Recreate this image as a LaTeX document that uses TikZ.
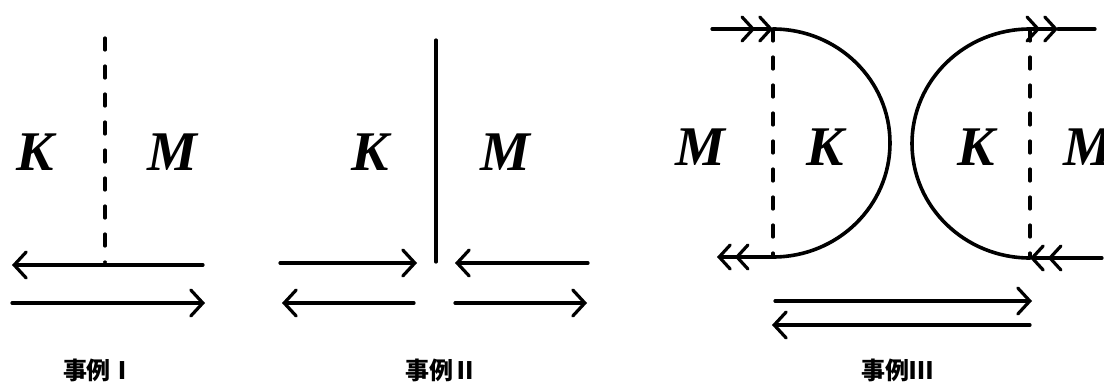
\documentclass[tikz,border=0pt]{standalone}
\usepackage{fontspec}
\setmainfont{Liberation Serif}
\newfontfamily\cjk{Noto Sans CJK JP}
\usetikzlibrary{arrows.meta}

\begin{document}
\begin{tikzpicture}[
  x=1pt, y=-1pt,
  line width=3.2pt, line cap=round,
  letter/.style={font=\fontsize{56}{60}\selectfont\bfseries\itshape, inner sep=0pt},
  caption/.style={font=\cjk\bfseries\fontsize{24}{26}\selectfont, inner sep=0pt},
  arr/.style={-{Straight Barb[length=12pt,width=26pt,line cap=round]}},
  dbl/.style={-{Straight Barb[length=11pt,width=24pt,line cap=round,sep=3pt]Straight Barb[length=11pt,width=24pt,line cap=round]}},
  cut/.style={dash pattern=on 12pt off 16pt},
  bow/.style={line width=3.6pt}
]
\useasboundingbox (0,0) rectangle (1104,383);

% case I
\coordinate (ia) at (105,38);
\coordinate (ib) at (105,262);
\draw[cut] (ia) -- (ib);
\node[letter] (ik) at (35,152) {K};
\node[letter] (im) at (172,152) {M};
\coordinate (ir1) at (203,265);
\coordinate (il1) at (12,265);
\coordinate (il2) at (12,303);
\coordinate (ir2) at (205,303);
\draw[arr] (ir1) -- (il1);
\draw[arr] (il2) -- (ir2);
\node[caption] (icap) at (99,370) {事例Ⅰ};

% case II
\coordinate (iia) at (436,40);
\coordinate (iib) at (436,262);
\draw (iia) -- (iib);
\node[letter] (iik) at (370,152) {K};
\node[letter] (iim) at (505,152) {M};
\coordinate (iil1) at (280,263);
\coordinate (iir1) at (417,263);
\coordinate (iil2) at (588,263);
\coordinate (iir2) at (455,263);
\coordinate (iil3) at (414,303);
\coordinate (iir3) at (282,303);
\coordinate (iil4) at (455,303);
\coordinate (iir4) at (587,303);
\draw[arr] (iil1) -- (iir1);
\draw[arr] (iil2) -- (iir2);
\draw[arr] (iil3) -- (iir3);
\draw[arr] (iil4) -- (iir4);
\node[caption] (iicap) at (441,370) {事例Ⅱ};

% case III
\coordinate (lt) at (773,29);
\coordinate (lb) at (773,257);
\coordinate (lin) at (712,29);
\coordinate (lout) at (717,257);
\draw[dbl] (lin) -- (lt);
\draw[bow] (lt) arc[start angle=90, end angle=-90, x radius=117pt, y radius=114pt];
\draw[dbl] (lb) -- (lout);
\draw[cut] (lt) -- (lb);
\node[letter] (iiim1) at (700,147) {M};
\node[letter] (iiik1) at (825,147) {K};

\coordinate (rt) at (1030,29);
\coordinate (rb) at (1030,258);
\coordinate (rmid) at (1058,29);
\coordinate (rout) at (1095,29);
\coordinate (rin) at (1102,258);
\draw[dbl] (rt) -- (rmid);
\draw (rmid) -- (rout);
\draw[bow] (rt) arc[start angle=90, end angle=270, x radius=118pt, y radius=114.5pt];
\draw[dbl] (rin) -- (rb);
\draw[cut] (rt) -- (rb);
\node[letter] (iiik2) at (976,147) {K};
\node[letter] (iiim2) at (1088,147) {M};

\coordinate (bl1) at (775,301);
\coordinate (br1) at (1032,301);
\coordinate (br2) at (1030,325);
\coordinate (bl2) at (772,325);
\draw[arr] (bl1) -- (br1);
\draw[arr] (br2) -- (bl2);
\node[caption] (iiicap) at (897,370) {事例Ⅲ};
\end{tikzpicture}
\end{document}
